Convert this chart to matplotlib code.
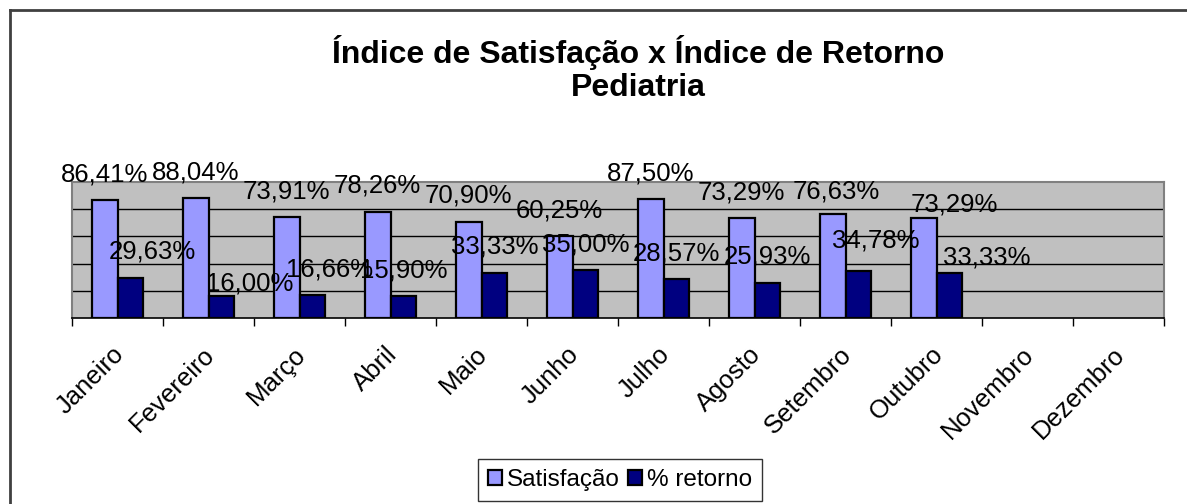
import numpy as np
import matplotlib
matplotlib.use('Agg')
import matplotlib.pyplot as plt
from matplotlib.lines import Line2D
from matplotlib.transforms import ScaledTranslation

plt.rcParams['font.family'] = ['Liberation Sans', 'DejaVu Sans']

meses = ['Janeiro', 'Fevereiro', 'Março', 'Abril', 'Maio', 'Junho', 'Julho',
         'Agosto', 'Setembro', 'Outubro', 'Novembro', 'Dezembro']
satisfacao = [86.41, 88.04, 73.91, 78.26, 70.90, 60.25, 87.50, 73.29, 76.63, 73.29]
retorno = [29.63, 16.00, 16.66, 15.90, 33.33, 35.00, 28.57, 25.93, 34.78, 33.33]

# hand-moved labels in the original (pixels: right, down)
nudge_sat = [(0, 0)] * 8 + [(4, 4), (31, 12)]
nudge_ret = [(22, 0), (28, 13), (17, 0), (0, 0), (0, 0), (0, 0), (0, 0), (0, 0),
             (17, -4), (37, 11)]

W, H = 1187, 504
fig = plt.figure(figsize=(W / 100, H / 100), dpi=100)
ax = fig.add_axes([72 / W, 1 - 318 / H, 1092 / W, 136 / H])
ax.set_facecolor('#c0c0c0')

bw = 0.285
x_sat = np.arange(len(satisfacao)) - bw / 2
x_ret = np.arange(len(retorno)) + bw / 2
ax.bar(x_sat, np.array(satisfacao) / 100, bw, color='#9999ff',
       edgecolor='black', linewidth=1.6, zorder=3, label='Satisfação')
ax.bar(x_ret, np.array(retorno) / 100, bw, color='#000080',
       edgecolor='black', linewidth=1.6, zorder=3, label='% retorno')

ax.set_xlim(-0.5, len(meses) - 0.5)
ax.set_ylim(0, 1)
for g in [0.2, 0.4, 0.6, 0.8]:
    ax.axhline(g, color='black', linewidth=1, zorder=1)

px = 0.72  # points per pixel at 100 dpi
for xs, vals, nudges in [(x_sat, satisfacao, nudge_sat), (x_ret, retorno, nudge_ret)]:
    for xv, v, (dx, dy) in zip(xs, vals, nudges):
        txt = ('%.2f%%' % v).replace('.', ',')
        ax.annotate(txt, (xv, v / 100), xytext=(dx * px, (14 - dy) * px),
                    textcoords='offset points', ha='center', va='bottom',
                    fontsize=18.5, zorder=5, annotation_clip=False)

ax.set_yticks([])
ax.set_xticks(range(len(meses)), meses, rotation=45, ha='right',
              rotation_mode='anchor', fontsize=18.5)
ax.set_xticks(np.arange(-0.5, len(meses)), minor=True)
ax.tick_params(axis='x', which='major', length=0, pad=17.5)
ax.tick_params(axis='x', which='minor', length=6, width=1, color='black')
shift = ScaledTranslation(-6 / 100, 0, fig.dpi_scale_trans)
for lbl in ax.get_xticklabels():
    lbl.set_transform(lbl.get_transform() + shift)

for s in ['left', 'top', 'right']:
    ax.spines[s].set_color('#808080')
    ax.spines[s].set_linewidth(1.5)
ax.spines['bottom'].set_color('black')
ax.spines['bottom'].set_linewidth(1.2)

fig.text(638 / W, 1 - 52 / H, 'Índice de Satisfação x Índice de Retorno',
         ha='center', va='center', fontsize=23, fontweight='bold')
fig.text(638 / W, 1 - 88 / H, 'Pediatria',
         ha='center', va='center', fontsize=23, fontweight='bold')

leg = fig.legend(loc='center', bbox_to_anchor=(620 / W, 1 - 480 / H), ncol=2,
                 fontsize=17.5, frameon=True, fancybox=False, edgecolor='black',
                 handlelength=0.6, handleheight=0.6, handletextpad=0.2,
                 columnspacing=0.3, borderpad=0.4, borderaxespad=0)
leg.get_frame().set_linewidth(1)

# outer chart frame (left and top edges visible)
fig.add_artist(Line2D([10 / W, 10 / W], [0, 1 - 10 / H], color='#404040',
                      linewidth=2, transform=fig.transFigure))
fig.add_artist(Line2D([10 / W, 1], [1 - 10 / H, 1 - 10 / H], color='#404040',
                      linewidth=2, transform=fig.transFigure))

fig.savefig('out.png', dpi=100)
